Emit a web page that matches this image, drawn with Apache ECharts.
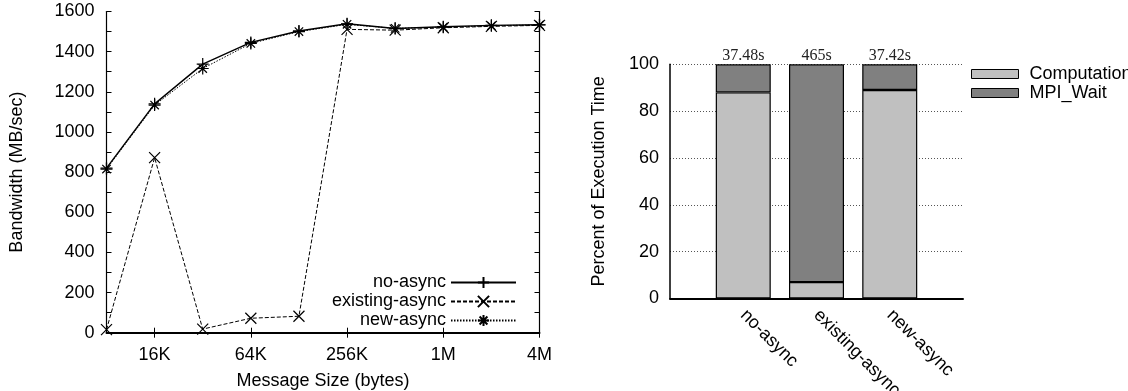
<!DOCTYPE html>
<html>
<head>
<meta charset="utf-8">
<script src="https://cdn.jsdelivr.net/npm/echarts@6/dist/echarts.min.js"></script>
<style>
html,body{margin:0;padding:0;background:#fff;}
#chart{width:1128px;height:391px;}
</style>
</head>
<body>
<div id="chart"></div>
<script>
// ---- Data: left chart (bandwidth) ----
const messageSizes = ['8K','16K','32K','64K','128K','256K','512K','1M','2M','4M'];
const noAsync       = [820, 1140, 1338, 1446, 1503, 1539, 1515, 1524, 1531, 1534];
const existingAsync = [15, 872, 18, 72, 82, 1511, 1507, 1519, 1526, 1531];
const newAsync      = [815, 1134, 1316, 1441, 1500, 1536, 1516, 1522, 1529, 1533];
const bandwidthTicks = [0, 200, 400, 600, 800, 1000, 1200, 1400, 1600];

// ---- Data: right chart (execution time breakdown) ----
const barCategories = ['no-async', 'existing-async', 'new-async'];
const computation = [88, 7, 89];
const mpiWait     = [12, 93, 11];
const execTimes   = ['37.48', '465', '37.42'];
const percentTicks = [0, 20, 40, 60, 80, 100];

const FONT = 'Liberation Sans, Arial, sans-serif';
const PLUS = 'path://M0,5L10,5M5,0L5,10';
const CROSS = 'path://M0,0L10,10M0,10L10,0';
const STAR = 'path://M0,5L10,5M5,0L5,10M1.5,1.5L8.5,8.5M1.5,8.5L8.5,1.5';

// padded category axis (empty slot at each end) for the bar chart
const barAxisCats = [''].concat(barCategories, ['']);
const pad = (arr) => [null].concat(arr, [null]);

const chart = echarts.init(document.getElementById('chart'), null, {renderer: 'canvas'});

const oddOnly = (i) => i % 2 === 1;

function lineSeries(name, data, symbol, size, type, width) {
  return {
    name, type: 'line', xAxisIndex: 0, yAxisIndex: 0,
    data, symbol, symbolSize: size, showAllSymbol: true,
    lineStyle: {color: '#000', width, type},
    itemStyle: {color: '#000', borderColor: '#000', borderWidth: 1.2},
    emphasis: {disabled: true},
    z: 3
  };
}

const option = {
  animation: false,
  backgroundColor: '#fff',
  textStyle: {fontFamily: FONT},
  grid: [
    {left: 106.5, right: 588.5, top: 11.5, bottom: 58.3, containLabel: false, outerBoundsMode: 'none'},
    {left: 670, right: 165, top: 64.3, bottom: 92.5, containLabel: false, outerBoundsMode: 'none'}
  ],
  legend: [
    {
      data: ['no-async', 'existing-async', 'new-async'],
      orient: 'vertical', align: 'right',
      right: 611, top: 273.5, padding: 0,
      itemWidth: 65, itemHeight: 14, itemGap: 1,
      textStyle: {fontSize: 18, color: '#000', fontFamily: FONT},
      selectedMode: false
    },
    {
      data: ['Computation', 'MPI_Wait'],
      orient: 'vertical', align: 'left',
      left: 971, top: 65, padding: 0,
      itemWidth: 47, itemHeight: 9, itemGap: 1,
      icon: 'rect',
      itemStyle: {borderColor: '#000', borderWidth: 1},
      textStyle: {fontSize: 18, color: '#000', fontFamily: FONT, padding: [0, 0, 0, 6]},
      selectedMode: false
    }
  ],
  xAxis: [
    {
      gridIndex: 0, type: 'category', data: messageSizes, boundaryGap: false,
      name: 'Message Size (bytes)', nameLocation: 'middle', nameGap: 39,
      nameTextStyle: {fontSize: 18, color: '#000', fontFamily: FONT},
      axisLine: {lineStyle: {color: '#000', width: 2}},
      axisTick: {inside: true, length: 5, interval: oddOnly, lineStyle: {color: '#000', width: 1}},
      axisLabel: {interval: oddOnly, fontSize: 18, color: '#000', margin: 13, fontFamily: FONT},
      splitLine: {show: false}
    },
    {
      gridIndex: 0, type: 'category', data: messageSizes, boundaryGap: false, position: 'top',
      axisLine: {lineStyle: {color: '#000', width: 1.2}},
      axisTick: {inside: true, length: 5, interval: oddOnly, lineStyle: {color: '#000', width: 1}},
      axisLabel: {show: false},
      splitLine: {show: false}
    },
    {
      gridIndex: 1, type: 'category', data: barAxisCats, boundaryGap: false,
      axisLine: {lineStyle: {color: '#000', width: 2}},
      axisTick: {show: false},
      axisLabel: {
        interval: 0, rotate: -45, fontSize: 18, color: '#000', margin: 14, fontFamily: FONT
      },
      splitLine: {show: false}
    }
  ],
  yAxis: [
    {
      gridIndex: 0, type: 'value', min: bandwidthTicks[0], max: bandwidthTicks[bandwidthTicks.length - 1], interval: 200,
      name: 'Bandwidth (MB/sec)', nameLocation: 'middle', nameGap: 80,
      nameTextStyle: {fontSize: 18, color: '#000', fontFamily: FONT},
      axisLine: {show: true, lineStyle: {color: '#000', width: 1.2}},
      axisTick: {show: true, inside: true, length: 5, lineStyle: {color: '#000', width: 1}},
      minorTick: {show: true, splitNumber: 2, length: 5, lineStyle: {color: '#000', width: 1}},
      axisLabel: {fontSize: 18, color: '#000', margin: 12, fontFamily: FONT, formatter: (v) => String(v)},
      splitLine: {show: false}
    },
    {
      gridIndex: 0, type: 'value', position: 'right', min: 0, max: 1600, interval: 200,
      axisLine: {show: true, lineStyle: {color: '#000', width: 1.2}},
      axisTick: {show: true, inside: true, length: 5, lineStyle: {color: '#000', width: 1}},
      minorTick: {show: true, splitNumber: 2, length: 5, lineStyle: {color: '#000', width: 1}},
      axisLabel: {show: false},
      splitLine: {show: false}
    },
    {
      gridIndex: 1, type: 'value', min: percentTicks[0], max: percentTicks[percentTicks.length - 1], interval: 20,
      name: 'Percent of Execution Time', nameLocation: 'middle', nameGap: 62,
      nameTextStyle: {fontSize: 18, color: '#000', fontFamily: FONT},
      axisLine: {show: true, lineStyle: {color: '#000', width: 1.5}},
      axisTick: {show: false},
      axisLabel: {fontSize: 18, color: '#000', margin: 11, fontFamily: FONT, formatter: (v) => String(v)},
      splitLine: {show: true, lineStyle: {color: '#555', width: 1, type: [1, 2]}}
    }
  ],
  series: [
    lineSeries('no-async', noAsync, PLUS, 12, 'solid', 1.4),
    lineSeries('existing-async', existingAsync, CROSS, 11, [4, 2], 1),
    lineSeries('new-async', newAsync, STAR, 12, [1.5, 1.5], 1),
    {
      name: 'Computation', type: 'bar', xAxisIndex: 2, yAxisIndex: 2, stack: 'exec',
      barWidth: 55,
      data: pad(computation),
      itemStyle: {color: '#c0c0c0', borderColor: '#000', borderWidth: 1.2},
      emphasis: {disabled: true}
    },
    {
      name: 'MPI_Wait', type: 'bar', xAxisIndex: 2, yAxisIndex: 2, stack: 'exec',
      barWidth: 55,
      data: pad(mpiWait),
      itemStyle: {color: '#808080', borderColor: '#000', borderWidth: 1.2},
      label: {
        show: true, position: 'top', distance: 1,
        fontFamily: 'Liberation Serif, Times New Roman, serif', fontSize: 16, color: '#222',
        formatter: (p) => execTimes[p.dataIndex - 1] + 's'
      },
      emphasis: {disabled: true}
    }
  ]
};

chart.setOption(option);
</script>
</body>
</html>
